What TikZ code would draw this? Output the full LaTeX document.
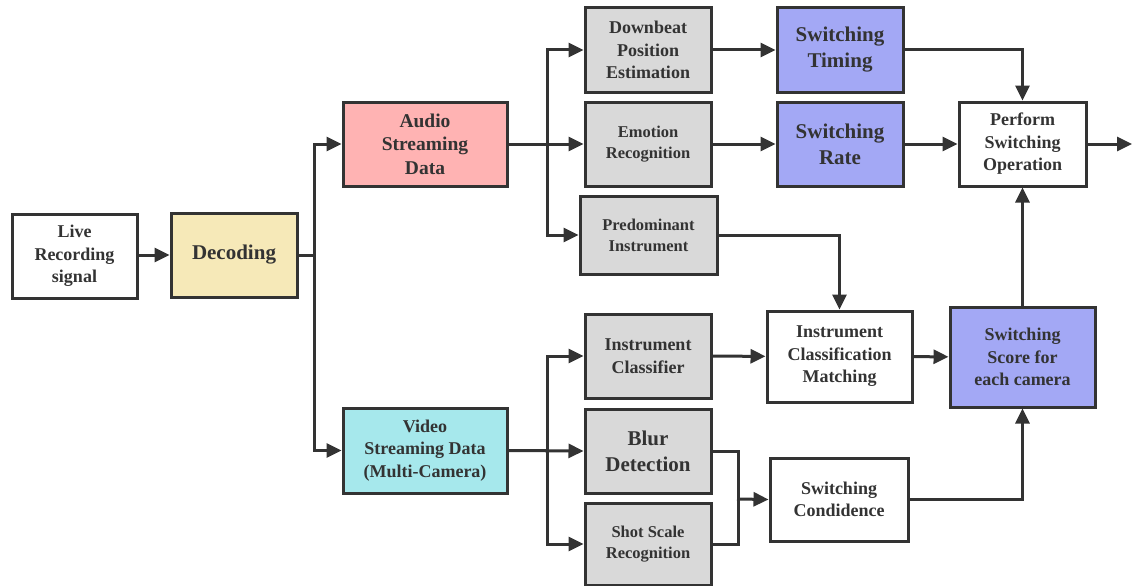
\documentclass[tikz,border=0pt]{standalone}
\usepackage{fontspec}
\setmainfont{Liberation Serif}
\usetikzlibrary{arrows.meta}
\definecolor{ln}{HTML}{333333}
\definecolor{cpink}{HTML}{FFB3B3}
\definecolor{ccyan}{HTML}{A6E8EC}
\definecolor{cyel}{HTML}{F6E9B8}
\definecolor{cgray}{HTML}{D9D9D9}
\definecolor{cpurp}{HTML}{A3A8F5}
\begin{document}
\begin{tikzpicture}[x=1pt,y=-1pt,
  box/.style={draw=ln, line width=3pt, text=ln, align=center, inner sep=0pt,
    font=\bfseries\fontsize{18}{22.5}\selectfont, minimum width=126pt, minimum height=84pt},
  bigtxt/.style={font=\bfseries\fontsize{21}{26}\selectfont},
  smalltxt/.style={font=\bfseries\fontsize{16.5}{21}\selectfont},
  conn/.style={draw=ln, line width=3pt, -{Triangle[length=15pt,width=14pt]}},
  plain/.style={draw=ln, line width=3pt}]
\useasboundingbox (0,0) rectangle (1132,586);
\fill[white] (0,0) rectangle (1132,586);

\node[box, fill=white, minimum width=125pt] (live) at (74.5,256) {Live\\Recording\\signal};
\node[box, fill=cyel, bigtxt] (dec) at (234,255) {Decoding};
\node[box, fill=cpink, minimum width=164pt, font=\bfseries\fontsize{19.5}{23.5}\selectfont] (audio) at (425,144) {Audio\\Streaming\\Data};
\node[box, fill=ccyan, minimum width=164pt, minimum height=85pt] (video) at (425,450.5) {Video\\Streaming Data\\(Multi-Camera)};

\node[box, fill=cgray] (down) at (648,50) {Downbeat\\Position\\Estimation};
\node[box, fill=cgray, smalltxt] (emo) at (648,144) {Emotion\\Recognition};
\node[box, fill=cgray, smalltxt, minimum width=137pt, minimum height=78pt] (pred) at (648.5,235) {Predominant\\Instrument};

\node[box, fill=cpurp, bigtxt] (timing) at (840,50) {Switching\\Timing};
\node[box, fill=cpurp, bigtxt] (rate) at (840,144) {Switching\\Rate};
\node[box, fill=white, minimum width=127pt] (perf) at (1022.5,144) {Perform\\Switching\\Operation};

\node[box, fill=cgray] (icl) at (648,356) {Instrument\\Classifier};
\node[box, fill=cgray, bigtxt] (blur) at (648,451) {Blur\\Detection};
\node[box, fill=cgray, smalltxt, minimum height=82pt] (shot) at (648,544) {Shot Scale\\Recognition};

\node[box, fill=white, minimum width=145pt, minimum height=91pt] (icm) at (839.5,356.5) {Instrument\\Classification\\Matching};
\node[box, fill=cpurp, minimum width=145pt, minimum height=100pt] (score) at (1022.5,357) {Switching\\Score for\\each camera};
\node[box, fill=white, minimum width=138pt, minimum height=83pt] (cond) at (839,499.5) {Switching\\Condidence};

\coordinate (out) at (1132,144);
\coordinate (j) at (737,499);

\draw[conn] (live.east |- dec.west) -- (dec.west);
\draw[conn] (dec.east) -- ++(16,0) |- (audio.west);
\draw[conn] (dec.east) -- ++(16,0) |- (video.west);

\draw[conn] (audio.east) -- (emo.west);
\draw[conn] (audio.east) -- ++(39,0) |- (down.west);
\draw[conn] (audio.east) -- ++(39,0) |- (pred.west);

\draw[conn] (down) -- (timing);
\draw[conn] (emo) -- (rate);
\draw[conn] (rate) -- (perf);
\draw[conn] (timing.east) -| (perf.north);
\draw[conn] (perf.east) -- (out);
\draw[conn] (pred.east) -| (icm.north);

\draw[conn] (video.east) -- (blur.west);
\draw[conn] (video.east) -- ++(39,0) |- (icl.west);
\draw[conn] (video.east) -- ++(39,0) |- (shot.west);

\draw[conn] (icl) -- (icm);
\draw[conn] (icm) -- (score);
\draw[conn] (score.north) -- (perf.south);

\draw[plain] (blur.east) -- ++(26,0) |- (shot.east);
\draw[conn] (j) -- (cond.west);
\draw[conn] (cond.east) -| (score.south);
\end{tikzpicture}
\end{document}
